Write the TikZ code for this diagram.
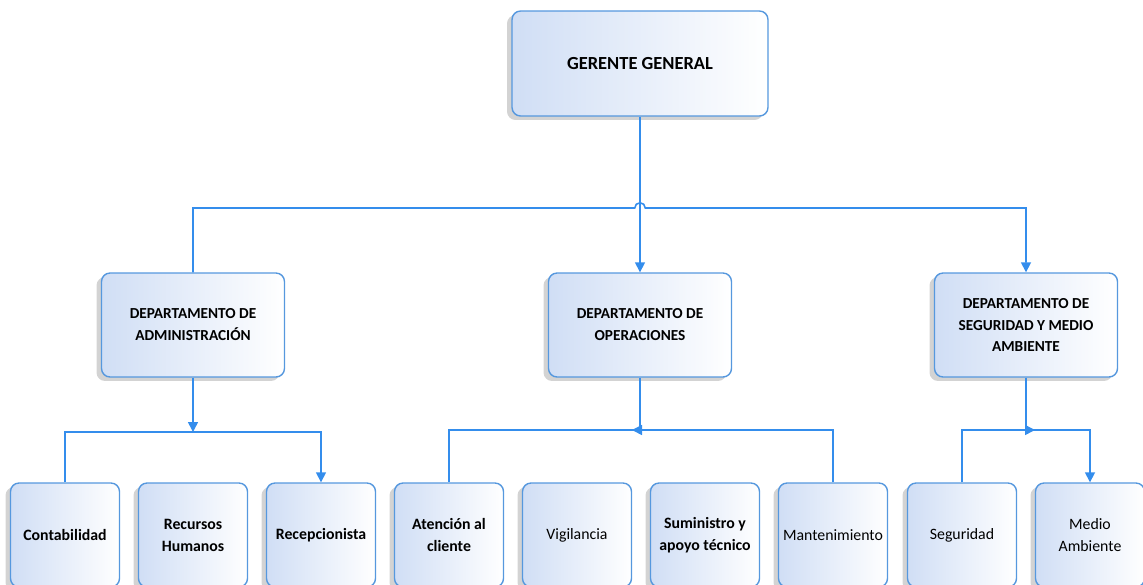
\documentclass[tikz,border=0pt]{standalone}
\usepackage{fontspec}
\setmainfont{Carlito}
\usetikzlibrary{arrows.meta,shadows}
\definecolor{linkblue}{RGB}{52,141,236}
\definecolor{boxline}{RGB}{86,152,222}
\definecolor{boxfill}{RGB}{208,222,245}

\begin{document}
\begin{tikzpicture}[x=0.02cm,y=-0.02cm,
	box/.style={draw=boxline, line width=0.8pt, rounded corners=0.17cm, left color=boxfill, right color=white, align=center, font=\bfseries\fontsize{9}{12.5}\selectfont, drop shadow={shadow xshift=-0.1cm, shadow yshift=-0.08cm, opacity=0.35}},
	head/.style={box, minimum width=5.12cm, minimum height=2.1cm, font=\bfseries\fontsize{10.5}{13}\selectfont},
	dept/.style={box, minimum width=3.66cm, minimum height=2.08cm, font=\bfseries\fontsize{8.7}{12.5}\selectfont},
	unit/.style={box, minimum width=2.18cm, minimum height=2.08cm, inner sep=1.5pt},
	thin/.style={font=\fontsize{9}{12.5}\selectfont},
	link/.style={draw=linkblue, line width=0.9pt},
	tip/.style={-{Triangle[length=0.2cm,width=0.2cm]}}]
		\useasboundingbox (0,0) rectangle (1143,585);
		\clip (0,0) rectangle (1143,585);

		\draw (640,63.5) node [head] (g) {GERENTE GENERAL};
		\draw (193,325) node [dept] (a) {DEPARTAMENTO DE\\ADMINISTRACIÓN};
		\draw (640,325) node [dept] (o) {DEPARTAMENTO DE\\OPERACIONES};
		\draw (1026,325) node [dept] (s) {DEPARTAMENTO DE\\SEGURIDAD Y MEDIO\\AMBIENTE};

		\draw (65,535) node [unit] (c1) {Contabilidad};
		\draw (193,535) node [unit] (c2) {Recursos\\Humanos};
		\draw (321,535) node [unit] (c3) {Recepcionista};
		\draw (449,535) node [unit] (c4) {Atención al\\cliente};
		\draw (577,535) node [unit, thin] (c5) {Vigilancia};
		\draw (705,535) node [unit] (c6) {Suministro y\\apoyo técnico};
		\draw (833,535) node [unit, thin] (c7) {Mantenimiento};
		\draw (962,535) node [unit, thin] (c8) {Seguridad};
		\draw (1090,535) node [unit, thin] (c9) {Medio\\Ambiente};

		\coordinate (h1) at (640,208);
		\coordinate (h2) at (193,432);
		\coordinate (h3) at (640,430);
		\coordinate (t3) at (632,430);
		\coordinate (h4) at (1026,430);
		\coordinate (t4) at (1035,430);

		\draw[link, tip] (g.south) -- (o.north);
		\draw[link, tip] (a.north) |- ([xshift=-3pt]h1) arc [start angle=180, end angle=0, radius=3pt] -| (s.north);

		\draw[link, tip] (a.south) -- (h2);
		\draw[link, tip] (c1.north) |- (h2) -| (c3.north);

		\draw[link] (o.south) -- (h3) -| (c4.north);
		\draw[link, tip] (c7.north) |- (t3);

		\draw[link, tip] (s.south) -- (h4) -| (c9.north);
		\draw[link, tip] (c8.north) |- (t4);
	\end{tikzpicture}
\end{document}
